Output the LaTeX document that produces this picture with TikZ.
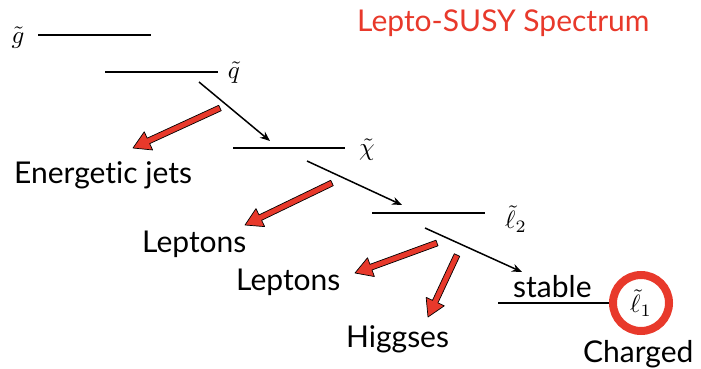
\documentclass[tikz,border=0pt]{standalone}
\usepackage{fontspec}
\setmainfont{Lato}[RawFeature={-liga}]
\usetikzlibrary{calc,arrows.meta}
\definecolor{susyred}{HTML}{E8392B}
\newcommand\redarrow[3]{%
  \coordinate (#3h) at ($(#2)!17pt!(#1)$);
  \filldraw[redarr]
    ($(#1)!3pt!90:(#2)$) -- ($(#3h)!3pt!90:(#2)$) -- ($(#3h)!10pt!90:(#2)$) -- (#2)
    -- ($(#3h)!10pt!-90:(#2)$) -- ($(#3h)!3pt!-90:(#2)$) -- ($(#1)!3pt!-90:(#2)$) -- cycle;
}
\begin{document}
\begin{tikzpicture}[x=1pt,y=-1pt,
  level/.style={line width=1.6pt,black},
  decay/.style={line width=1.5pt,black,-{Stealth[length=10pt,width=8pt]}},
  redarr/.style={fill=susyred,draw=black,line width=0.7pt,line join=round},
  lbl/.style={inner sep=0pt,font=\fontsize{30}{32}\selectfont,anchor=base west},
  mlbl/.style={inner sep=0pt,scale=2.5},
  ring/.style={draw=susyred,line width=8pt}]
\useasboundingbox (0,0) rectangle (701,369);
% title
\node[lbl,text=susyred] (title) at (357,32) {Lepto-SUSY Spectrum};
% levels
\coordinate (g1) at (38,35);  \coordinate (g2) at (151,35);
\coordinate (q1) at (105,72); \coordinate (q2) at (218,72);
\coordinate (c1) at (233,148); \coordinate (c2) at (345,148);
\coordinate (l1) at (372,213); \coordinate (l2) at (485,213);
\coordinate (s1) at (498,303); \coordinate (s2) at (609,303);
\draw[level] (g1) -- (g2);
\draw[level] (q1) -- (q2);
\draw[level] (c1) -- (c2);
\draw[level] (l1) -- (l2);
\draw[level] (s1) -- (s2);
% particle labels
\node[mlbl] (gl) at (18,38) {$\tilde g$};
\node[mlbl] (ql) at (234,73) {$\tilde q$};
\node[mlbl] (cl) at (367,150) {$\tilde\chi$};
\node[mlbl] (l2l) at (516,219) {$\tilde\ell_2$};
\node[mlbl] (l1l) at (641,303) {$\tilde\ell_1$};
\draw[ring] (l1l.center) circle[radius=28];
% black decays
\coordinate (a1s) at (199,82);  \coordinate (a1e) at (270,141);
\coordinate (a2s) at (307,161); \coordinate (a2e) at (402,205);
\coordinate (a3s) at (425,228); \coordinate (a3e) at (522,272);
\draw[decay] (a1s) -- (a1e);
\draw[decay] (a2s) -- (a2e);
\draw[decay] (a3s) -- (a3e);
% red arrows
\coordinate (r1s) at (220,108); \coordinate (r1e) at (133,148);
\coordinate (r2s) at (332,183); \coordinate (r2e) at (245,225);
\coordinate (r3s) at (437,243); \coordinate (r3e) at (355,273);
\coordinate (r4s) at (457,255); \coordinate (r4e) at (428,317);
\redarrow{r1s}{r1e}{ra}
\redarrow{r2s}{r2e}{rb}
\redarrow{r3s}{r3e}{rc}
\redarrow{r4s}{r4e}{rd}
% texts
\node[lbl] (jets) at (14,183) {Energetic jets};
\node[lbl] (lep1) at (142,252) {Leptons};
\node[lbl] (lep2) at (236,290) {Leptons};
\node[lbl] (higgs) at (346,347) {Higgses};
\node[lbl] (stable) at (513,297) {stable};
\node[lbl] (charged) at (583,362) {Charged};
\end{tikzpicture}
\end{document}
